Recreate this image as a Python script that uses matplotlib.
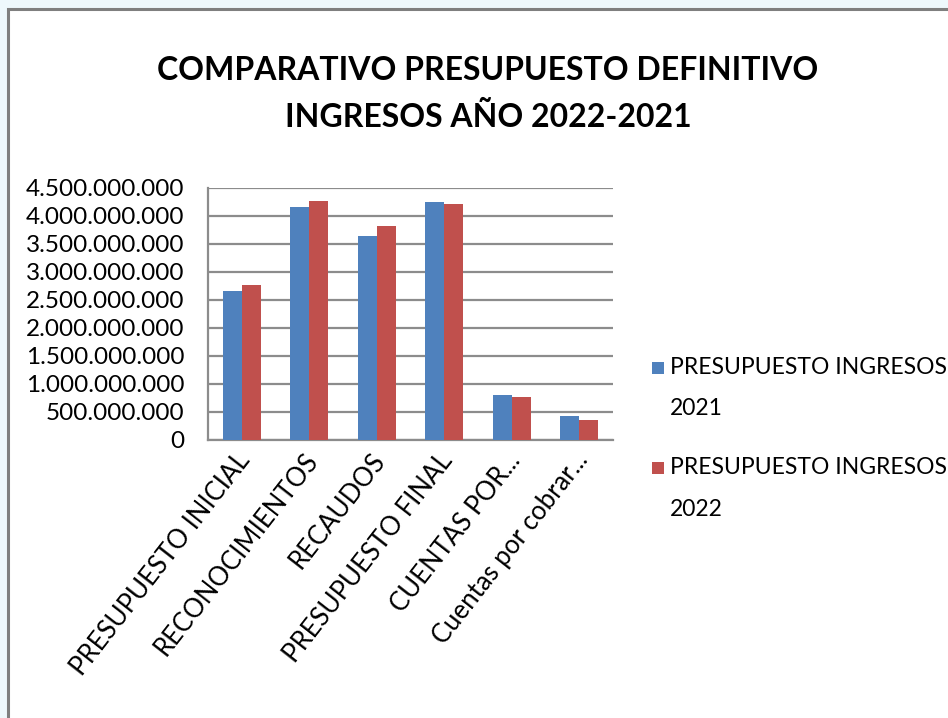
import matplotlib
matplotlib.use("Agg")
import matplotlib.pyplot as plt
from matplotlib.patches import Rectangle
from matplotlib.ticker import FuncFormatter, MultipleLocator
import matplotlib.transforms as mtransforms
import numpy as np

plt.rcParams['font.family'] = ['Lato', 'DejaVu Sans']

categories = ['PRESUPUESTO INICIAL', 'RECONOCIMIENTOS', 'RECAUDOS',
              'PRESUPUESTO FINAL', 'CUENTAS POR...', 'Cuentas por cobrar...']
ingresos_2021 = [2652000000, 4154000000, 3647000000, 4243000000, 805000000, 435000000]
ingresos_2022 = [2765000000, 4267000000, 3814000000, 4219000000, 775000000, 352000000]
series_labels = [['PRESUPUESTO INGRESOS', '2021'], ['PRESUPUESTO INGRESOS', '2022']]
title = 'COMPARATIVO PRESUPUESTO DEFINITIVO\nINGRESOS AÑO 2022-2021'

blue = '#4F81BD'
red = '#C0504D'
grid_col = '#8C8C8C'

W, H = 948, 718
fig = plt.figure(figsize=(W / 100, H / 100), dpi=100)
fig.patch.set_facecolor('#EEF8FC')

# white chart panel with grey frame
panel = Rectangle((8 / W, -0.1), 1.2, (H - 9) / H + 0.1, transform=fig.transFigure,
                  facecolor='white', edgecolor='#7F7F7F', linewidth=2.2, zorder=-1)
fig.patches.append(panel)

ax = fig.add_axes([208 / W, (H - 440) / H, 405 / W, 252 / H])
ax.set_facecolor('none')
ax.set_zorder(2)

x = np.arange(len(categories))
bw = 0.28
ax.bar(x - bw / 2, ingresos_2021, bw, color=blue, zorder=3)
ax.bar(x + bw / 2, ingresos_2022, bw, color=red, zorder=3)

ax.set_xlim(-0.5, len(categories) - 0.5)
ax.set_ylim(0, 4500000000)
ax.yaxis.set_major_locator(MultipleLocator(500000000))
ax.yaxis.set_major_formatter(FuncFormatter(lambda v, p: f"{int(round(v)):,}".replace(",", ".")))
ax.grid(axis='y', color=grid_col, linewidth=1.6, zorder=1)
for s in ['top', 'right']:
    ax.spines[s].set_visible(False)
ax.spines['left'].set_color(grid_col)
ax.spines['left'].set_linewidth(1.6)
ax.spines['bottom'].set_color(grid_col)
ax.spines['bottom'].set_linewidth(1.6)
ax.tick_params(axis='y', length=0, labelsize=17.5, pad=17)
ax.tick_params(axis='x', length=0, labelsize=18.5, pad=6)
ax.set_xticks(x)
ax.set_xticklabels(categories, rotation=52, ha='right', va='top', rotation_mode='anchor')
shift = mtransforms.ScaledTranslation(-6 / 100, 0, fig.dpi_scale_trans)
for lbl in ax.get_xticklabels():
    lbl.set_transform(lbl.get_transform() + shift)

fig.text(488 / W, 1 - 94 / H, title, ha='center', va='center', fontsize=23,
         fontweight='bold', linespacing=1.65)

# legend drawn by hand so the swatch sits on the first text line
colors = [blue, red]
tops = [368, 468]
for c, y0, lines in zip(colors, tops, series_labels):
    fig.patches.append(Rectangle((652 / W, 1 - (y0 + 6) / H), 12 / W, 12 / H,
                                 transform=fig.transFigure, facecolor=c,
                                 edgecolor='none'))
    fig.text(670 / W, 1 - y0 / H, lines[0], ha='left', va='center', fontsize=16.5)
    fig.text(670 / W, 1 - (y0 + 41) / H, lines[1], ha='left', va='center', fontsize=16.5)

fig.savefig('out.png', dpi=100, facecolor=fig.get_facecolor())
